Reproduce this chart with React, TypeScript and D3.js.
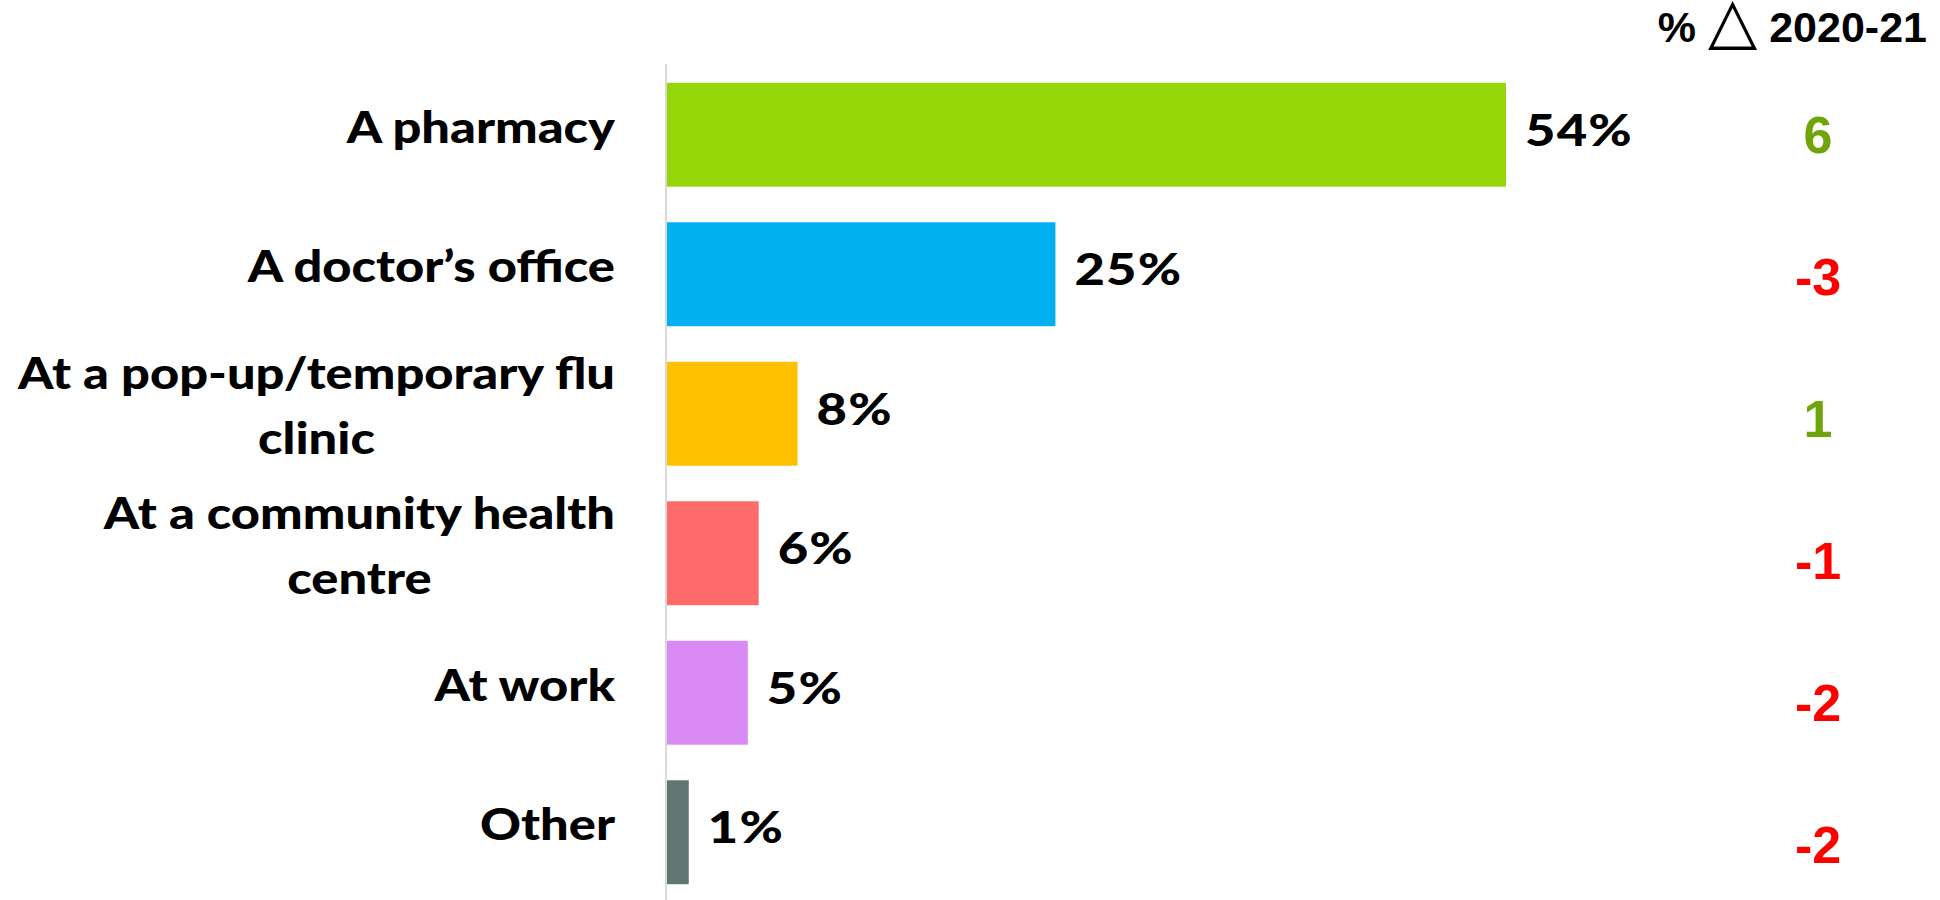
import React from "react";
import * as d3 from "d3";

const categories: string[][] = [
  ["A pharmacy"],
  ["A doctor’s office"],
  ["At a pop-up/temporary flu", "clinic"],
  ["At a community health", "centre"],
  ["At work"],
  ["Other"],
];
const values = [54, 25, 8.4, 5.9, 5.2, 1.4];
const barColors = ["#96D70A", "#00B0F0", "#FFC000", "#FF6B6B", "#DA8AF5", "#5F7671"];
const changes = [6, -3, 1, -1, -2, -2];
const headerParts = ["%", "△", "2020-21"];

const W = 1940;
const H = 900;

export default function App() {
  const idx = d3.range(categories.length);
  const x = d3.scaleLinear().domain([0, 54]).range([667, 1506]);
  const y = d3
    .scaleBand<number>()
    .domain(idx)
    .range([65, 902])
    .paddingInner(0.255)
    .paddingOuter(0.1275);
  const yd = d3.scalePoint<number>().domain(idx).range([134, 844]);
  const fmt = (v: number) => `${Math.round(v)}%`;
  const labelFont = "Lato, 'Open Sans', sans-serif";
  const numFont = "'Liberation Sans', Arial, sans-serif";
  const lineGap = 65;
  const labelSx = 1.15;
  const valueSx = 1.22;
  const blockRight = 615;

  return (
    <svg
      width={W}
      height={H}
      style={{ position: "absolute", left: 0, top: 0, background: "#fff" }}
    >
      <line x1={x(0) - 1} x2={x(0) - 1} y1={64} y2={H} stroke="#D9D9D9" strokeWidth={2} />
      {idx.map((i) => {
        const cy = (y(i) as number) + y.bandwidth() / 2;
        const lines = categories[i];
        const n = lines.length;
        return (
          <g key={i}>
            <rect
              x={x(0)}
              y={y(i)}
              width={x(values[i]) - x(0)}
              height={y.bandwidth()}
              fill={barColors[i]}
            />
            <g transform={`translate(${blockRight},${cy + 8}) scale(${labelSx},1)`}>
              {n === 1 ? (
                <text
                  x={0}
                  y={0}
                  textAnchor="end"
                  fontFamily={labelFont}
                  fontWeight={900}
                  fontSize={44}
                  fill="#000"
                >
                  {lines[0]}
                </text>
              ) : (
                <text
                  textAnchor="middle"
                  fontFamily={labelFont}
                  fontWeight={900}
                  fontSize={44}
                  fill="#000"
                  ref={(el) => {
                    if (!el) return;
                    el.removeAttribute("transform");
                    const b = el.getBBox();
                    el.setAttribute("transform", `translate(${-(b.x + b.width)},0)`);
                  }}
                >
                  {lines.map((l, k) => (
                    <tspan key={k} x={0} y={(k - (n - 1) / 2) * lineGap}>
                      {l}
                    </tspan>
                  ))}
                </text>
              )}
            </g>
            <g transform={`translate(${x(values[i]) + 19},${cy + 11}) scale(${valueSx},1)`}>
              <text
                x={0}
                y={0}
                fontFamily={labelFont}
                fontWeight={900}
                fontSize={43}
                letterSpacing={1}
                fill="#000"
              >
                {fmt(values[i])}
              </text>
            </g>
            <text
              x={1818}
              y={(yd(i) as number) + 19}
              textAnchor="middle"
              fontFamily={numFont}
              fontWeight={700}
              fontSize={52}
              fill={changes[i] > 0 ? "#70A50A" : "#FF0000"}
            >
              {changes[i]}
            </text>
          </g>
        );
      })}
      <text
        x={1927}
        y={42}
        textAnchor="end"
        fontFamily={numFont}
        fontWeight={700}
        fontSize={43}
        fill="#000"
      >
        <tspan>{headerParts[0]} </tspan>
        <tspan fontFamily="'DejaVu Sans', sans-serif" fontWeight={400} fontSize={64}>
          {headerParts[1]}
        </tspan>
        <tspan> {headerParts[2]}</tspan>
      </text>
    </svg>
  );
}
